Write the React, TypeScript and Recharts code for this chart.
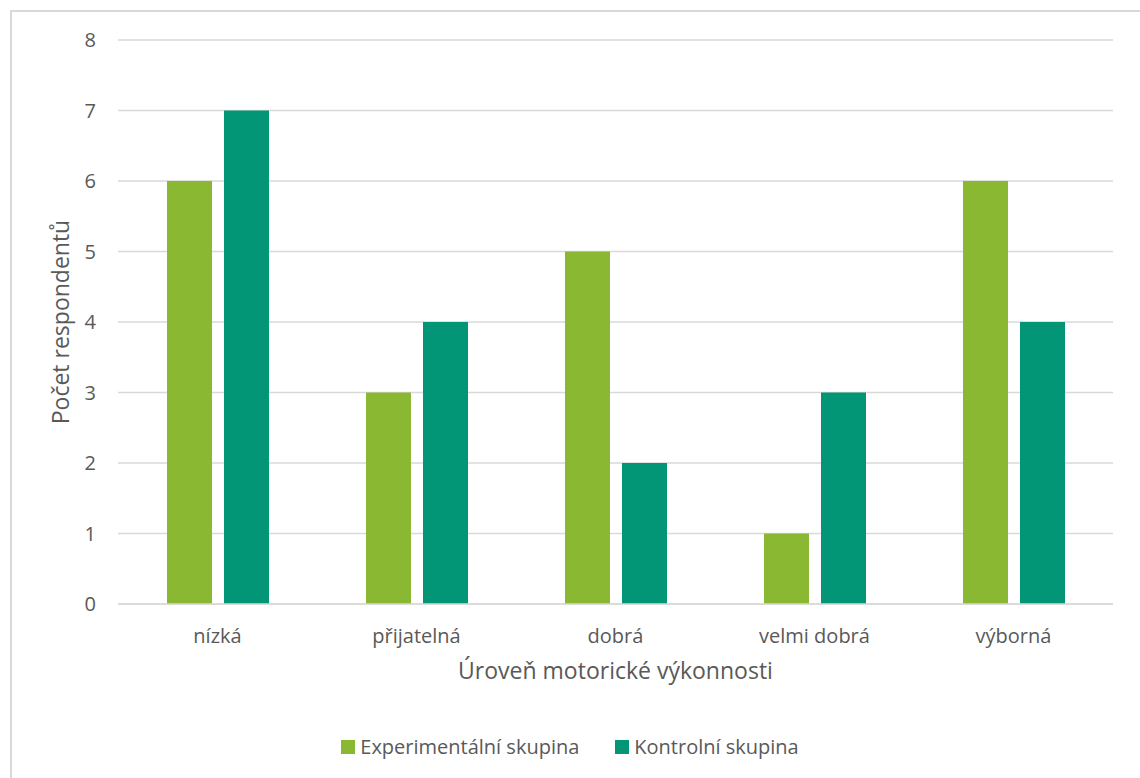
import React from "react";
import { BarChart, Bar, XAxis, YAxis, CartesianGrid, Legend, Label } from "recharts";

// Úroveň motorické výkonnosti – počty respondentů podle skupin
const categories = ["nízká", "přijatelná", "dobrá", "velmi dobrá", "výborná"];
const experimentalni = [6, 3, 5, 1, 6];
const kontrolni = [7, 4, 2, 3, 4];
const yTicks = [0, 1, 2, 3, 4, 5, 6, 7, 8];

const seriesNames = ["Experimentální skupina", "Kontrolní skupina"];
const seriesColors = ["#8AB833", "#029676"];

const data = categories.map((c, i) => ({
  kategorie: c,
  exp: experimentalni[i],
  kon: kontrolni[i],
}));

const FONT = "'Open Sans', 'Noto Sans', sans-serif";
const TEXT = "#595959";
const GRID = "#d9d9d9";

const LegendContent = () => (
  <div
    style={{
      display: "flex",
      justifyContent: "center",
      alignItems: "center",
      fontFamily: FONT,
      fontSize: 20,
      color: TEXT,
      gap: 36,
    }}
  >
    {seriesNames.map((n, i) => (
      <div key={n} style={{ display: "flex", alignItems: "center" }}>
        <span
          style={{
            display: "inline-block",
            width: 14,
            height: 14,
            background: seriesColors[i],
            marginRight: 5,
          }}
        />
        <span>{n}</span>
      </div>
    ))}
  </div>
);

export default function App() {
  return (
    <div style={{ position: "fixed", left: 0, top: 0, width: 1140, height: 778, overflow: "hidden", background: "#fff" }}>
      <div
        style={{
          position: "absolute",
          left: 10,
          top: 10,
          width: 1200,
          height: 900,
          border: `2px solid ${GRID}`,
        }}
      />
      <div style={{ position: "absolute", left: 0, top: 0 }}>
        <BarChart
          width={1140}
          height={778}
          data={data}
          margin={{ top: 40, right: 27, left: 0, bottom: 0 }}
          barSize={45}
          barGap={12}
        >
          <CartesianGrid vertical={false} stroke={GRID} strokeWidth={1.5} />
          <XAxis
            dataKey="kategorie"
            height={174}
            axisLine={{ stroke: GRID, strokeWidth: 1.5 }}
            tickLine={false}
            tickMargin={19}
            tick={{ fill: TEXT, fontSize: 20, fontFamily: FONT }}
          >
            <Label
              value="Úroveň motorické výkonnosti"
              position="insideTop"
              offset={59}
              style={{ fill: TEXT, fontSize: 23, fontFamily: FONT }}
            />
          </XAxis>
          <YAxis
            width={118}
            domain={[0, 8]}
            ticks={yTicks}
            interval={0}
            axisLine={false}
            tickLine={false}
            tickMargin={16}
            tick={{ fill: TEXT, fontSize: 20, fontFamily: FONT }}
          >
            <Label
              value="Počet respondentů"
              angle={-90}
              position="insideLeft"
              offset={61}
              style={{ fill: TEXT, fontSize: 23, fontFamily: FONT, textAnchor: "middle" }}
            />
          </YAxis>
          <Legend
            verticalAlign="middle"
            content={<LegendContent />}
            wrapperStyle={{ top: 733, left: 0, width: 1140 }}
          />
          <Bar dataKey="exp" name={seriesNames[0]} fill={seriesColors[0]} isAnimationActive={false} />
          <Bar dataKey="kon" name={seriesNames[1]} fill={seriesColors[1]} isAnimationActive={false} />
        </BarChart>
      </div>
    </div>
  );
}
